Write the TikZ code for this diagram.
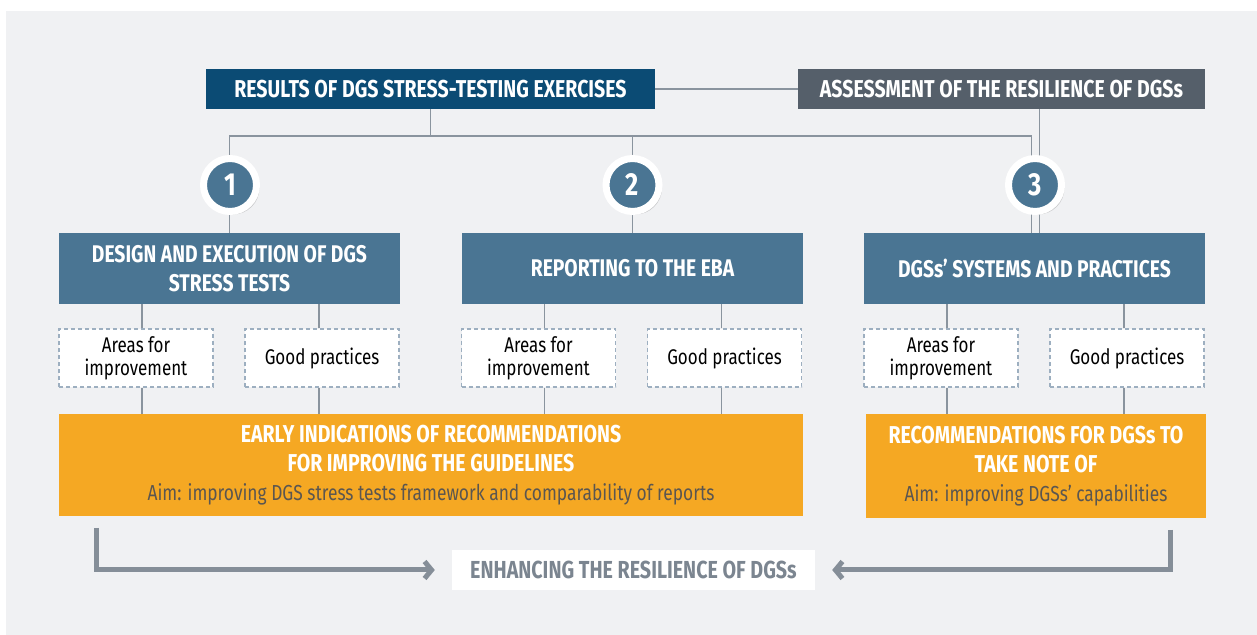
\documentclass[tikz,border=0pt]{standalone}
\usepackage{fontspec}
\setmainfont{Fira Sans}[FakeStretch=0.8]
\usetikzlibrary{arrows.meta,shadows}
\definecolor{dgspanel}{HTML}{F0F1F3}
\definecolor{dgsnavy}{HTML}{0B4B74}
\definecolor{dgsslate}{HTML}{555F6A}
\definecolor{dgsblue}{HTML}{4A7593}
\definecolor{dgsorange}{HTML}{F5A823}
\definecolor{dgsline}{HTML}{8A949E}
\definecolor{dgsdash}{HTML}{9DAFC0}
\definecolor{dgsarrow}{HTML}{858E98}
\definecolor{dgsaim}{HTML}{5B5650}
\definecolor{dgsgrey}{HTML}{7B8590}
\begin{document}
\begin{tikzpicture}[>=latex,line join=miter,
  topbox/.style={inner sep=0pt,minimum height=40bp,text=white,font=\bfseries\fontsize{24.5}{28}\selectfont},
  areabox/.style={fill=dgsblue,inner sep=0pt,minimum width=341bp,minimum height=71bp,align=center,text=white,font=\bfseries\fontsize{24.2}{29}\selectfont},
  notebox/.style={draw=dgsdash,line width=1.2bp,dash pattern=on 4bp off 3bp,fill=white,inner sep=0pt,minimum width=154bp,minimum height=58bp,align=center,font=\fontsize{21.3}{23}\selectfont},
  numring/.style={circle,fill=dgsblue,draw=white,line width=7bp,minimum size=53bp,inner sep=0pt,text=white,font=\bfseries\fontsize{32}{32}\selectfont,drop shadow={shadow xshift=3bp,shadow yshift=-3bp,opacity=0.35}},
  recbox/.style={fill=dgsorange,inner sep=0pt,align=center,text=white,font=\fontsize{24.5}{29}\selectfont},
  aimtext/.style={},
  link/.style={draw=dgsline,line width=1.2bp},
  flow/.style={draw=dgsarrow,line width=5bp,shorten >=17bp,-{Straight Barb[length=7bp,width=17bp]}},
]
\useasboundingbox (0bp,0bp) rectangle (1257bp,635bp);
\fill [dgspanel] (6bp,0bp) rectangle (1257bp,624bp);
%%
\node (node_res) at (430.5bp,546bp) [topbox,fill=dgsnavy,minimum width=449bp] {RESULTS OF DGS STRESS-TESTING EXERCISES};
  \node (node_ass) at (1001.5bp,546bp) [topbox,fill=dgsslate,minimum width=407bp] {ASSESSMENT OF THE RESILIENCE OF DGSs};
  \coordinate (split) at (430.5bp,499bp);
%
\node (node_box1) at (229.5bp,366.5bp) [areabox] {DESIGN AND EXECUTION OF DGS\\STRESS TESTS};
  \node (node_box2) at (632.5bp,366.5bp) [areabox] {REPORTING TO THE EBA};
  \node (node_box3) at (1034.5bp,366.5bp) [areabox] {DGSs’ SYSTEMS AND PRACTICES};
%
\node (node_a1) at (136bp,277bp) [notebox] {Areas for\\improvement};
  \node (node_g1) at (322bp,277bp) [notebox] {Good practices};
  \node (node_a2) at (538.5bp,277bp) [notebox] {Areas for\\improvement};
  \node (node_g2) at (724.5bp,277bp) [notebox] {Good practices};
  \node (node_a3) at (941bp,277bp) [notebox] {Areas for\\improvement};
  \node (node_g3) at (1127bp,277bp) [notebox] {Good practices};
%
\node (node_rec1) at (431bp,170bp) [recbox,minimum width=744bp,minimum height=102bp] {\bfseries EARLY INDICATIONS OF RECOMMENDATIONS\\\bfseries FOR IMPROVING THE GUIDELINES\\{\fontsize{21.8}{29}\selectfont\color{dgsaim}Aim: improving DGS stress tests framework and comparability of reports}};
  \node (node_rec2) at (1036bp,169bp) [recbox,minimum width=340bp,minimum height=104bp] {\bfseries RECOMMENDATIONS FOR DGSs TO\\\bfseries TAKE NOTE OF\\{\fontsize{21.8}{29}\selectfont\color{dgsaim}Aim: improving DGSs’ capabilities}};
  \node (node_enh) at (633.5bp,65bp) [fill=white,inner sep=0pt,minimum width=363bp,minimum height=40bp,text=dgsgrey,font=\bfseries\fontsize{24.7}{28}\selectfont] {ENHANCING THE RESILIENCE OF DGSs};
%
\draw [link] (node_res) -- (node_ass);
  \draw [link] (node_res) -- (split);
  \draw [link] (node_box1.north) |- (split) -| ([xshift=-3bp]node_box3.north);
  \draw [link] (node_box2.north) -- (node_box2.north |- split);
  \draw [link] ([xshift=5bp]node_box3.north) -- ([xshift=5bp]node_box3.north |- node_ass.south);
%
\draw [link] ([xshift=6bp]node_a1.north) -- ([xshift=6bp]node_a1.north |- node_box1.south);
  \draw [link] ([xshift=-3bp]node_g1.north) -- ([xshift=-3bp]node_g1.north |- node_box1.south);
  \draw [link] ([xshift=6bp]node_a2.north) -- ([xshift=6bp]node_a2.north |- node_box2.south);
  \draw [link] ([xshift=-3bp]node_g2.north) -- ([xshift=-3bp]node_g2.north |- node_box2.south);
  \draw [link] ([xshift=6bp]node_a3.north) -- ([xshift=6bp]node_a3.north |- node_box3.south);
  \draw [link] ([xshift=-3bp]node_g3.north) -- ([xshift=-3bp]node_g3.north |- node_box3.south);
  \draw [link] ([xshift=6bp]node_a1.south) -- ([xshift=6bp]node_a1.south |- node_rec1.north);
  \draw [link] ([xshift=-3bp]node_g1.south) -- ([xshift=-3bp]node_g1.south |- node_rec1.north);
  \draw [link] ([xshift=6bp]node_a2.south) -- ([xshift=6bp]node_a2.south |- node_rec1.north);
  \draw [link] ([xshift=-3bp]node_g2.south) -- ([xshift=-3bp]node_g2.south |- node_rec1.north);
  \draw [link] ([xshift=6bp]node_a3.south) -- ([xshift=6bp]node_a3.south |- node_rec2.north);
  \draw [link] ([xshift=-3bp]node_g3.south) -- ([xshift=-3bp]node_g3.south |- node_rec2.north);
%
\node (node_n1) at (230bp,450bp) [numring] {1};
  \node (node_n2) at (632.5bp,450bp) [numring] {2};
  \node (node_n3) at (1035bp,450bp) [numring] {3};
%
\coordinate (flow_l) at (96bp,107bp);
  \coordinate (flow_r) at (1170bp,105bp);
  \draw [flow] (flow_l) |- (node_enh.west);
  \draw [flow] (flow_r) |- (node_enh.east);
%
\end{tikzpicture}
\end{document}
